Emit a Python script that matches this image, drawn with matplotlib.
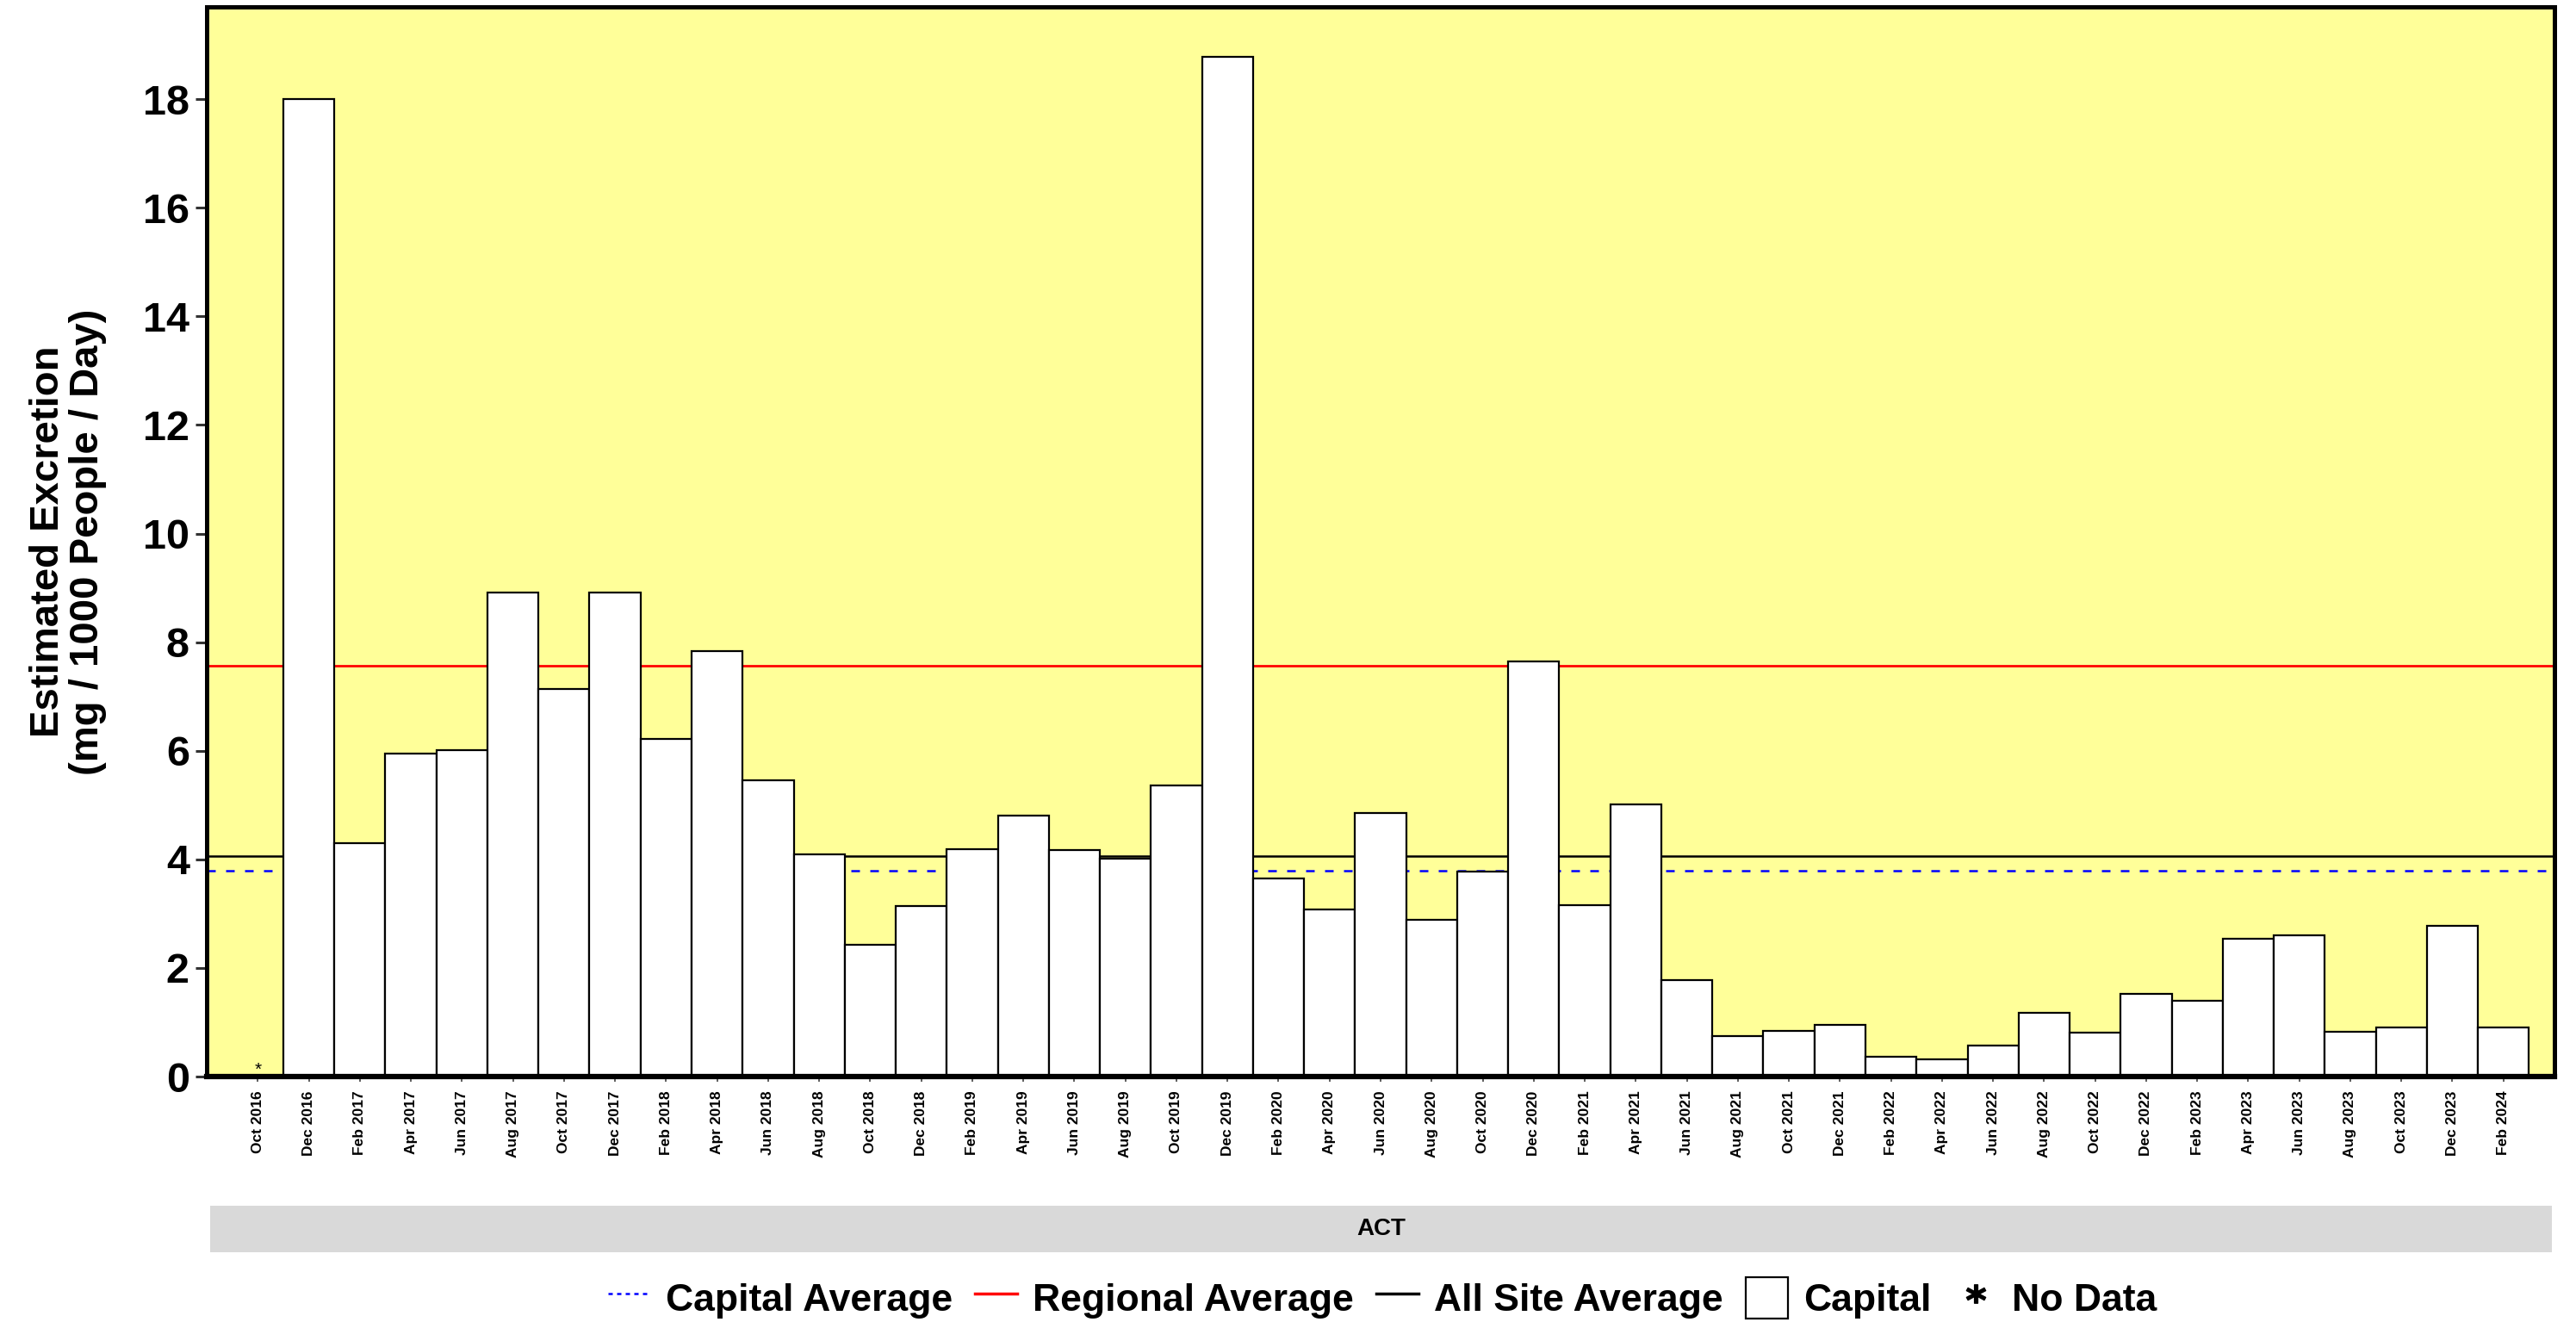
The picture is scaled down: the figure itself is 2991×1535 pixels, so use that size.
import matplotlib
matplotlib.use("Agg")
import matplotlib.pyplot as plt
from matplotlib.lines import Line2D
from matplotlib.patches import Patch

plt.rcParams["font.family"] = ["Liberation Sans", "DejaVu Sans"]
plt.rcParams["font.weight"] = "bold"

months = [
    "Oct 2016", "Dec 2016",
    "Feb 2017", "Apr 2017", "Jun 2017", "Aug 2017", "Oct 2017", "Dec 2017",
    "Feb 2018", "Apr 2018", "Jun 2018", "Aug 2018", "Oct 2018", "Dec 2018",
    "Feb 2019", "Apr 2019", "Jun 2019", "Aug 2019", "Oct 2019", "Dec 2019",
    "Feb 2020", "Apr 2020", "Jun 2020", "Aug 2020", "Oct 2020", "Dec 2020",
    "Feb 2021", "Apr 2021", "Jun 2021", "Aug 2021", "Oct 2021", "Dec 2021",
    "Feb 2022", "Apr 2022", "Jun 2022", "Aug 2022", "Oct 2022", "Dec 2022",
    "Feb 2023", "Apr 2023", "Jun 2023", "Aug 2023", "Oct 2023", "Dec 2023",
    "Feb 2024",
]

# None = no data for that period
capital = [
    None, 18.0,
    4.30, 5.95, 6.01, 8.92, 7.14, 8.91,
    6.21, 7.83, 5.45, 4.09, 2.42, 3.14,
    4.19, 4.80, 4.17, 4.01, 5.36, 18.78,
    3.65, 3.08, 4.86, 2.88, 3.77, 7.64,
    3.16, 5.01, 1.78, 0.75, 0.84, 0.95,
    0.37, 0.31, 0.57, 1.17, 0.81, 1.52,
    1.40, 2.54, 2.60, 0.83, 0.91, 2.77,
    0.91,
]

capital_avg = 3.79
regional_avg = 7.57
all_site_avg = 4.06

W, H = 2991, 1535
DPI = 100
fig = plt.figure(figsize=(W / DPI, H / DPI), dpi=DPI)
ax = fig.add_axes([240 / W, 1 - 1250 / H, (2966 - 240) / W, (1250 - 8) / H])
ax.set_facecolor("#ffff99")

x = list(range(len(months)))
heights = [v if v is not None else 0 for v in capital]

# average lines sit underneath the bars
ax.axhline(capital_avg, color="blue", lw=1.8, ls=(0, (4, 4.8)), zorder=1)
ax.axhline(regional_avg, color="red", lw=2.0, zorder=1)
ax.axhline(all_site_avg, color="black", lw=1.8, zorder=1)

for xi, v in zip(x, capital):
    if v is None:
        ax.text(xi, 0.12, "*", ha="center", va="center", fontsize=15,
                fontweight="normal", zorder=3)
    else:
        ax.bar(xi, v, width=1.0, color="white", edgecolor="black",
               linewidth=1.6, zorder=2)

ax.set_xlim(-1, 45)
ax.set_ylim(0, 19.7)
ax.set_yticks(range(0, 19, 2))
ax.tick_params(axis="y", labelsize=35, length=9.5, width=2.2, color="#333333", pad=5)
ax.set_xticks(x)
ax.set_xticklabels(months, rotation=90, fontsize=12.5, fontweight="bold")
ax.tick_params(axis="x", length=4, width=1.2, color="#444444", pad=8)
for side in ["left", "top", "right"]:
    ax.spines[side].set_linewidth(3.6)
ax.spines["bottom"].set_linewidth(4.5)

ax.set_ylabel("Estimated Excretion\n(mg / 1000 People / Day)", fontsize=34,
              fontweight="bold", labelpad=30, linespacing=1.05)

# facet strip below the tick labels
strip = fig.add_axes([244 / W, 1 - 1454 / H, (2963 - 244) / W, 54 / H])
strip.set_facecolor("#d9d9d9")
strip.set_xticks([])
strip.set_yticks([])
for s in strip.spines.values():
    s.set_visible(False)
strip.text(0.5, 0.5, "ACT", ha="center", va="center", fontsize=20,
           fontweight="bold", transform=strip.transAxes)

handles = [
    Line2D([], [], color="blue", lw=1.8, ls=(0, (2, 2))),
    Line2D([], [], color="red", lw=2.5),
    Line2D([], [], color="black", lw=2.5),
    Patch(facecolor="white", edgecolor="black", linewidth=1.6),
    Line2D([], [], ls="none", marker="$*$", color="black", markersize=16),
]
labels = ["Capital Average", "Regional Average", "All Site Average", "Capital", "No Data"]
fig.legend(handles, labels, loc="center", bbox_to_anchor=(1605 / W, 1 - 1507 / H),
           ncol=5, frameon=False, fontsize=32, handlelength=1.1, handleheight=1.3,
           handletextpad=0.4, columnspacing=0.6, prop={"weight": "bold", "size": 32})

fig.savefig("out.png", dpi=DPI)
